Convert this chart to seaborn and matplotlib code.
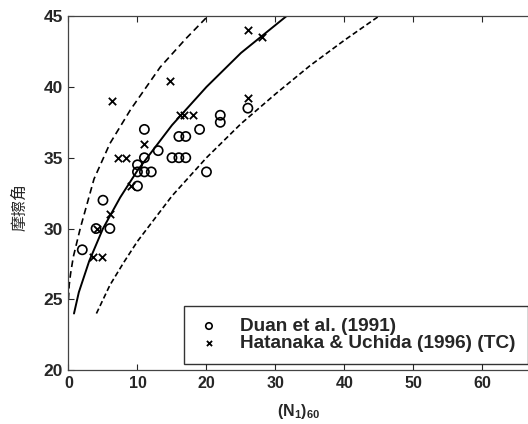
import numpy as np
import pandas as pd
import matplotlib
matplotlib.use("Agg")
import matplotlib.pyplot as plt
import seaborn as sns

# ---- data ----
duan_n = [2, 4, 5, 6, 10, 10, 11, 12, 10, 11, 11, 13, 15, 16, 17, 16, 17, 19, 20, 22, 22, 26]
duan_phi = [28.5, 30, 32, 30, 33, 34, 34, 34, 34.5, 35, 37, 35.5, 35, 35, 35, 36.5, 36.5, 37, 34, 38, 37.5, 38.5]

hat_n = [3.5, 4.8, 4.1, 6, 9, 6.3, 7.2, 8.4, 11, 14.7, 16.2, 16.8, 18, 26, 28, 26]
hat_phi = [28, 28, 30, 31, 33, 39, 35, 35, 36, 40.4, 38, 38, 38, 44, 43.5, 39.2]

mid_n = [0.8, 1.5, 3, 5, 7.5, 10, 15, 20, 25, 31.6]
mid_phi = [24, 25.5, 27.7, 30, 32.2, 34.1, 37.3, 40, 42.4, 45]

up_n = [0, 0.1, 0.3, 0.7, 1.7, 3.7, 6, 9, 13.3, 17, 20.2]
up_phi = [25, 26.0, 26.8, 28.0, 30.0, 33.5, 36.0, 38.4, 41.4, 43.4, 45]

lo_n = [4.05, 6, 8, 10, 15, 20, 25, 30, 35, 40, 45]
lo_phi = [24, 26, 27.6, 29.1, 32.3, 35, 37.4, 39.5, 41.5, 43.3, 45]

legend_labels = ["Duan et al. (1991)", "Hatanaka & Uchida (1996) (TC)"]
x_ticks = [0, 10, 20, 30, 40, 50, 60]
y_ticks = [20, 25, 30, 35, 40, 45]

sns.set_style("ticks")
plt.rcParams["font.family"] = ["Liberation Sans", "Noto Sans CJK SC", "DejaVu Sans"]
plt.rcParams["mathtext.fontset"] = "custom"
plt.rcParams["mathtext.bf"] = "Liberation Sans:bold"
plt.rcParams["mathtext.rm"] = "Liberation Sans:bold"
plt.rcParams["mathtext.default"] = "bf"

fig = plt.figure(figsize=(5.28, 4.24), dpi=100)
ax = fig.add_axes([0.1297, 0.127, 0.8703, 0.835])

df_d = pd.DataFrame({"n": duan_n, "phi": duan_phi})
df_h = pd.DataFrame({"n": hat_n, "phi": hat_phi})

sns.lineplot(x=mid_n, y=mid_phi, ax=ax, color="black", lw=1.4, sort=False)
sns.lineplot(x=up_n, y=up_phi, ax=ax, color="black", lw=1.2, sort=False, linestyle=(0, (4, 2.5)))
sns.lineplot(x=lo_n, y=lo_phi, ax=ax, color="black", lw=1.2, sort=False, linestyle=(0, (3.2, 1.8)))

ax.scatter(df_d["n"], df_d["phi"], s=44, facecolors="none", edgecolors="black", linewidths=1.2,
           marker="o", label=legend_labels[0], zorder=3)
ax.scatter(df_h["n"], df_h["phi"], s=28, c="black", linewidths=1.3, marker="x",
           label=legend_labels[1], zorder=3)

ax.set_xlim(0, 66.6)
ax.set_ylim(20, 45)
ax.set_xticks(x_ticks)
ax.set_yticks(y_ticks)
ax.tick_params(direction="in", length=4, width=0.8, top=True, right=False, pad=4)
ax.tick_params(axis="x", labelsize=11.5)
ax.tick_params(axis="y", labelsize=12.5)
for lab in ax.get_xticklabels() + ax.get_yticklabels():
    lab.set_fontweight("bold")
for s in ["left", "bottom", "top"]:
    ax.spines[s].set_visible(True)
    ax.spines[s].set_linewidth(0.9)
    ax.spines[s].set_color("#444444")
ax.spines["right"].set_visible(False)

ax.set_xlabel(r"(N$_{1}$)$_{60}$", fontsize=11.5, fontweight="bold")
ax.xaxis.set_label_coords(0.5, -0.09)
ax.set_ylabel("摩擦角", fontsize=11.5, family=["Noto Sans CJK SC", "DejaVu Sans"])
ax.yaxis.set_label_coords(-0.088, 0.46)

leg = ax.legend(loc="lower right", bbox_to_anchor=(0.999, 0.017), frameon=True, fancybox=False,
                prop={"weight": "bold", "size": 13.7, "family": "Liberation Sans"},
                markerscale=0.7, handletextpad=0.93, borderpad=0.62, labelspacing=0.0,
                handlelength=1.43, borderaxespad=0)
leg.get_frame().set_edgecolor("black")
leg.get_frame().set_linewidth(1.0)

fig.savefig("out.png", dpi=100)
